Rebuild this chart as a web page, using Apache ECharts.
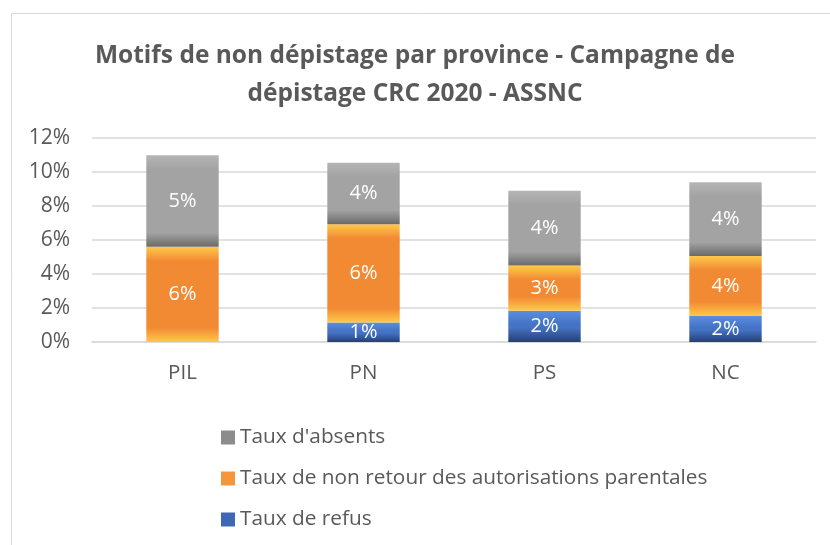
<!DOCTYPE html>
<html>
<head>
    <meta charset="utf-8">
    <title>Motifs de non dépistage</title>
    <script src="https://cdn.jsdelivr.net/npm/echarts@6/dist/echarts.min.js"></script>
    <style>
        html, body { margin: 0; padding: 0; background: #fff; }
    </style>
</head>
<body>
<div id="main" style="width: 830px;height:545px;"></div>

<script type="text/javascript">
    // données (en %)
    var provinces = ['PIL', 'PN', 'PS', 'NC'];
    var tauxRefus = [0, 1.15, 1.84, 1.53];
    var tauxParental = [5.6, 5.78, 2.66, 3.53];
    var tauxAbsents = [5.38, 3.62, 4.4, 4.33];
    var yTicks = [0, 2, 4, 6, 8, 10, 12];

    var font = 'Open Sans';
    var pxPerUnit = 17; // hauteur d'1% en pixels, pour le biseau

    // dégradé vertical imitant le biseau Excel
    function bevel(value, top, mid, bottom) {
        var h = value * pxPerUnit;
        var b = h > 0 ? Math.min(0.45, 14 / h) : 0.2;
        return new echarts.graphic.LinearGradient(0, 0, 0, 1, [
            {offset: 0, color: top},
            {offset: b, color: mid},
            {offset: 1 - b, color: mid},
            {offset: 1, color: bottom}
        ]);
    }

    function build(values, top, mid, bottom) {
        return values.map(function (v) {
            return {value: v, itemStyle: {color: bevel(v, top, mid, bottom)}};
        });
    }

    var label = {
        show: true,
        position: 'inside',
        color: '#fff',
        fontFamily: font,
        fontSize: 20,
        formatter: function (p) {
            return p.value > 0 ? Math.round(p.value) + '%' : '';
        }
    };

    var myChart = echarts.init(document.getElementById('main'));

    var option = {
        animation: false,
        title: {
            text: 'Motifs de non dépistage par province - Campagne de\ndépistage CRC 2020 - ASSNC',
            left: 'center',
            top: 32,
            textStyle: {
                fontFamily: font,
                fontSize: 24.5,
                fontWeight: 'bold',
                color: '#595959',
                lineHeight: 38
            }
        },
        graphic: [{
            type: 'rect',
            shape: {x: 11.5, y: 13.5, width: 900, height: 700},
            style: {fill: 'none', stroke: '#d9d9d9', lineWidth: 1}
        }],
        legend: {
            orient: 'vertical',
            left: 216,
            top: 421,
            itemWidth: 14,
            itemHeight: 14,
            itemGap: 18,
            icon: 'rect',
            data: ["Taux d'absents", 'Taux de non retour des autorisations parentales', 'Taux de refus'],
            textStyle: {fontFamily: font, fontSize: 20.8, color: '#595959', lineHeight: 23}
        },
        grid: {left: 92, right: 14, top: 138, bottom: 203},
        xAxis: {
            type: 'category',
            data: provinces,
            axisTick: {show: false},
            axisLine: {lineStyle: {color: '#d9d9d9', width: 1.5}},
            axisLabel: {fontFamily: font, fontSize: 20.5, color: '#595959', margin: 21}
        },
        yAxis: {
            type: 'value',
            min: yTicks[0],
            max: yTicks[yTicks.length - 1],
            interval: yTicks[1] - yTicks[0],
            axisLine: {show: false},
            axisTick: {show: false},
            splitLine: {lineStyle: {color: '#d9d9d9', width: 1.5}},
            axisLabel: {
                fontFamily: font, fontSize: 21, color: '#595959', margin: 22,
                formatter: '{value}%'
            }
        },
        series: [{
            name: 'Taux de refus',
            type: 'bar',
            stack: 'total',
            barWidth: '40%',
            itemStyle: {color: '#3f68b4'},
            label: label,
            data: build(tauxRefus, '#5b8ee0', '#4472c4', '#263f70')
        }, {
            name: 'Taux de non retour des autorisations parentales',
            type: 'bar',
            stack: 'total',
            itemStyle: {color: '#f4963b'},
            label: label,
            data: build(tauxParental, '#ffc94a', '#f28a34', '#ffc94a')
        }, {
            name: "Taux d'absents",
            type: 'bar',
            stack: 'total',
            itemStyle: {color: '#8c8c8c'},
            label: label,
            data: build(tauxAbsents, '#b5b5b5', '#a3a3a3', '#6a6a6a')
        }]
    };

    myChart.setOption(option);
</script>
</body>
</html>
